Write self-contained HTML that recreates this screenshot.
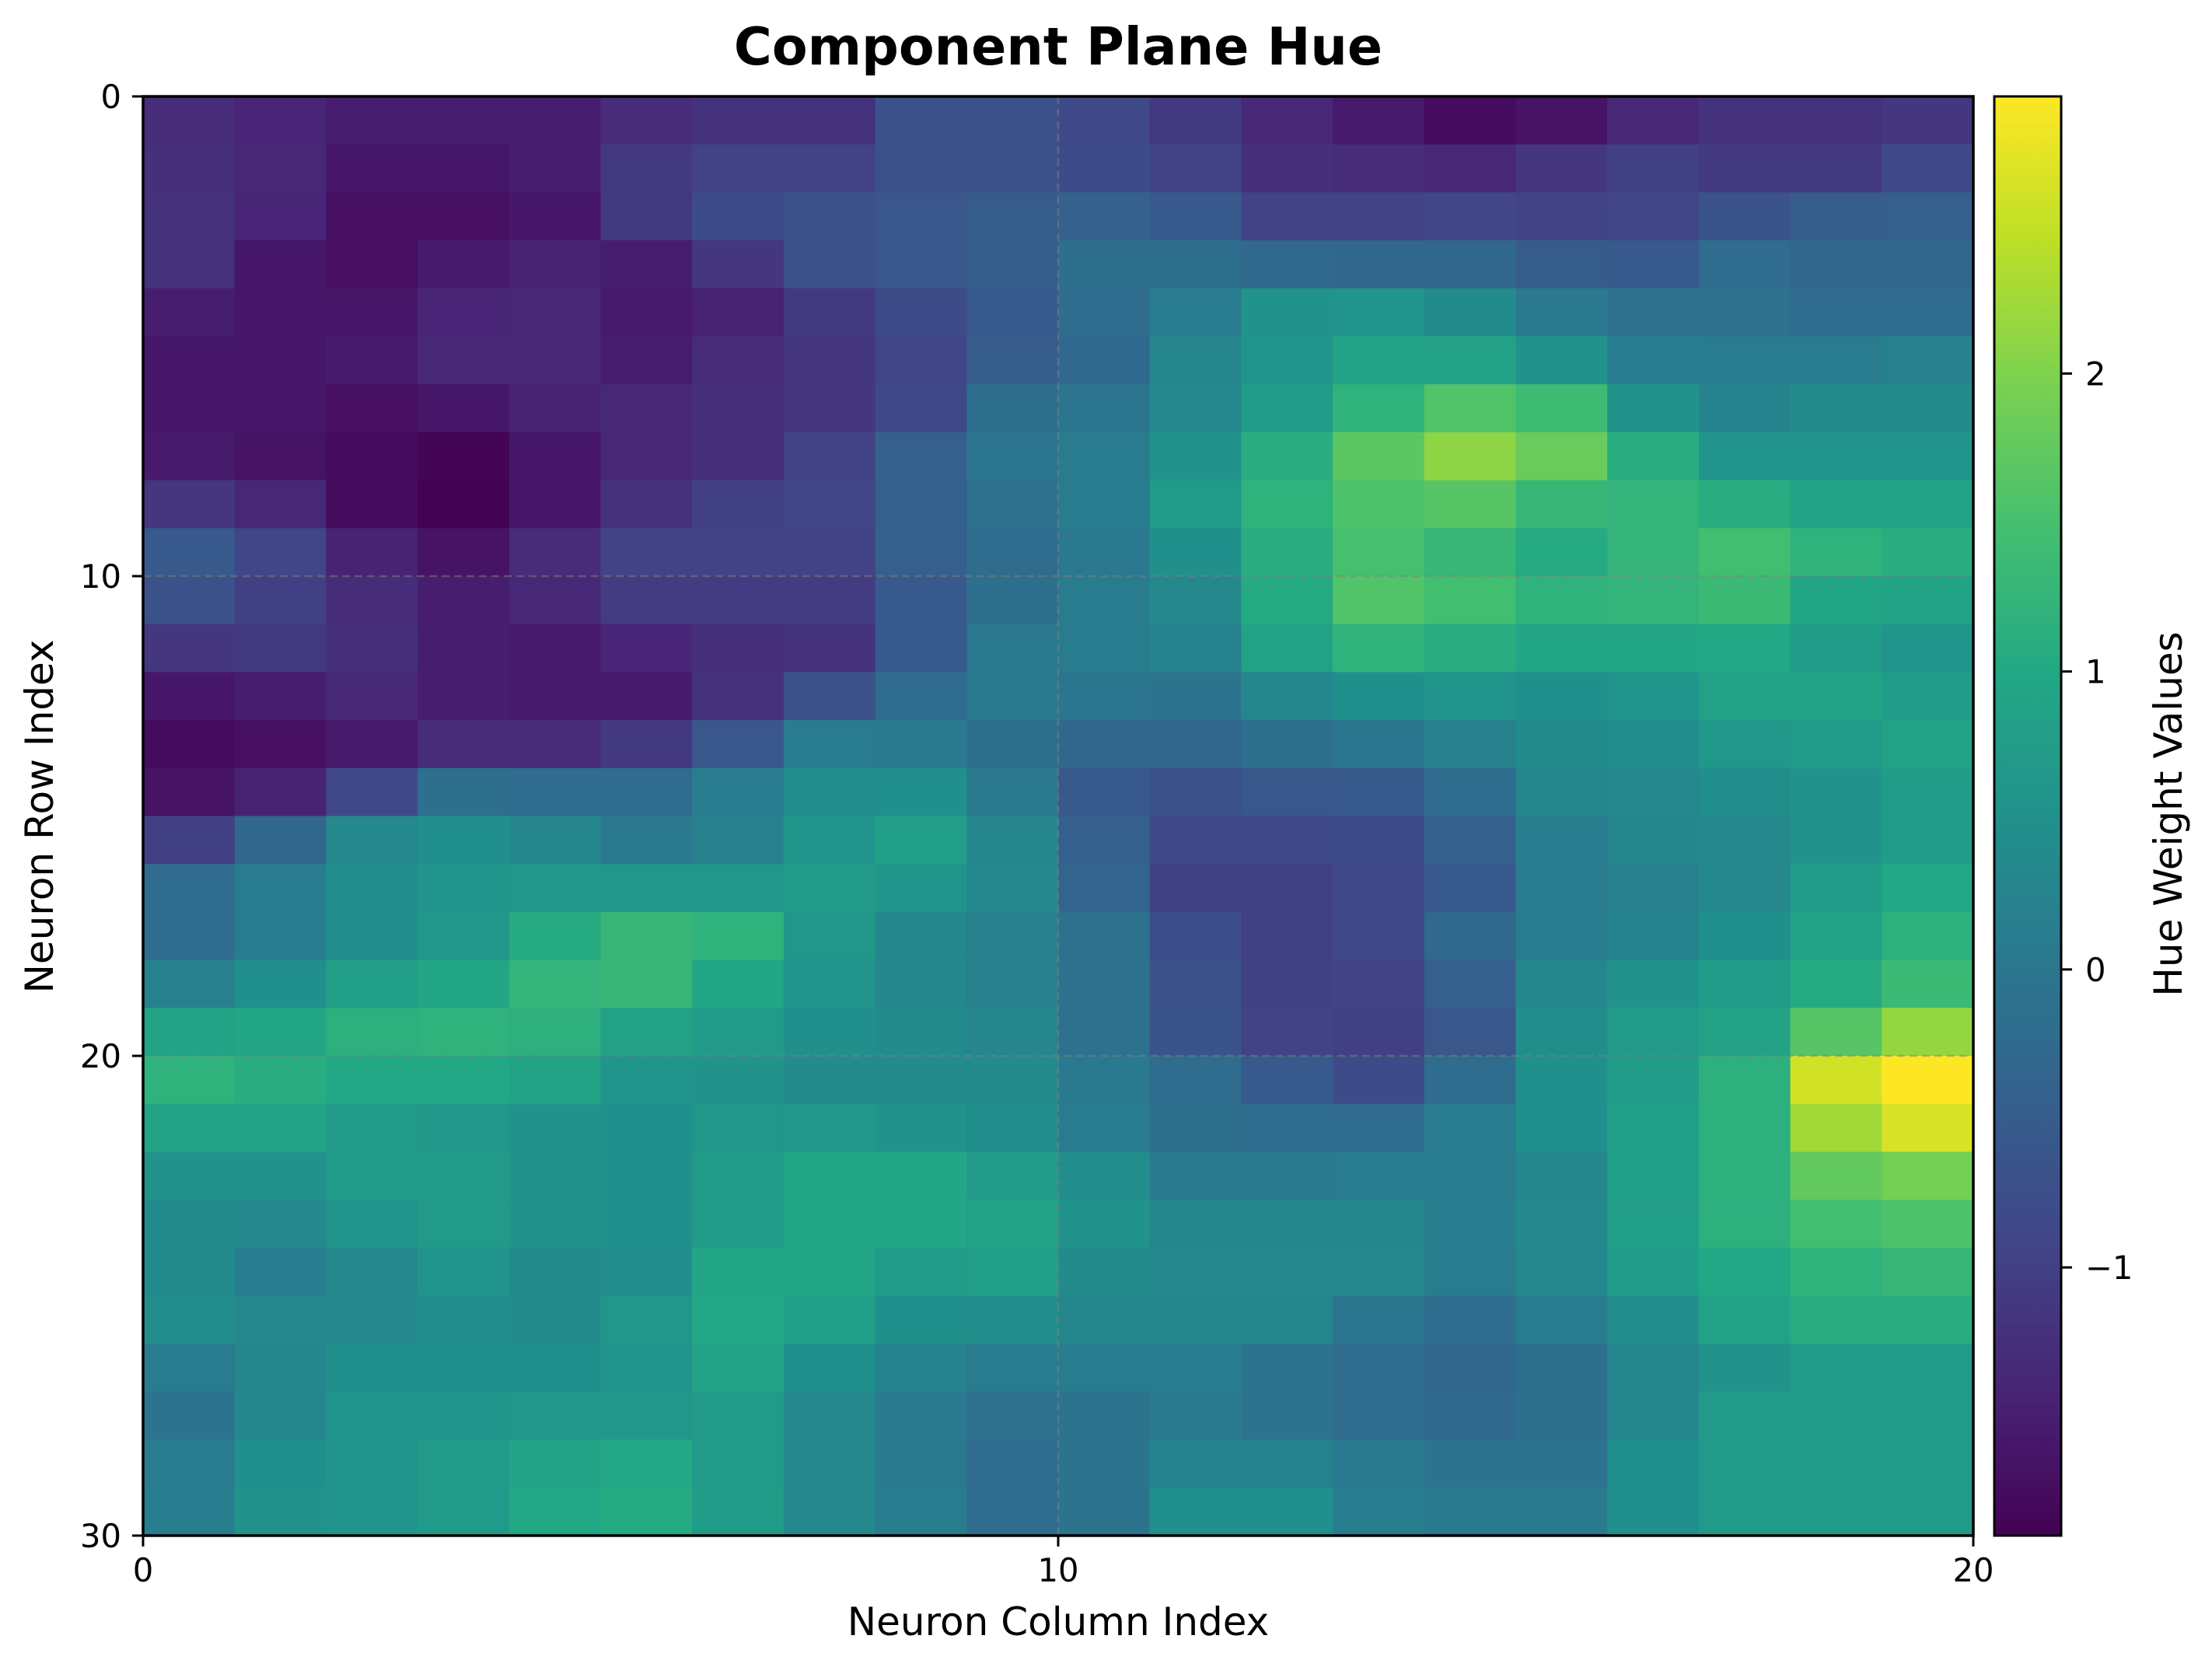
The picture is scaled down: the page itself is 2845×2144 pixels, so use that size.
<!DOCTYPE html>
<html><head><meta charset="utf-8"><title>Component Plane Hue</title>
<style>
html,body{margin:0;padding:0;background:#fff;}
svg{display:block;font-family:"DejaVu Sans","Liberation Sans",sans-serif;}
</style></head>
<body>
<svg id="chart" width="2845" height="2144" viewBox="0 0 2845 2144" xmlns="http://www.w3.org/2000/svg">
<defs><linearGradient id="cbgrad" x1="0" y1="1" x2="0" y2="0"></linearGradient></defs>
<rect x="0" y="0" width="2845" height="2144" fill="#fff"/>
<text x="1361" y="83" text-anchor="middle" font-size="66.7" font-weight="bold">Component Plane Hue</text>
<g id="cells"></g>
<g id="grid"></g>
<rect x="184" y="124" width="2354" height="1851" fill="none" stroke="#000" stroke-width="3.5"/>
<g id="xaxis"></g>
<g id="yaxis"></g>
<text x="1361" y="2103" text-anchor="middle" font-size="50">Neuron Column Index</text>
<text transform="translate(68,1050) rotate(-90)" text-anchor="middle" font-size="50">Neuron Row Index</text>
<rect x="2565" y="124" width="86" height="1851" fill="url(#cbgrad)" stroke="#000" stroke-width="3"/>
<g id="cbaxis"></g>
<text transform="translate(2806,1047) rotate(-90)" text-anchor="middle" font-size="50">Hue Weight Values</text>
</svg>
<script>
const rows = [
[-1.3,-1.4,-1.5,-1.5,-1.5,-1.3,-1.2,-1.2,-0.7,-0.7,-0.85,-1.1,-1.35,-1.55,-1.75,-1.65,-1.35,-1.2,-1.2,-1.15],
[-1.25,-1.35,-1.6,-1.6,-1.5,-1.1,-0.95,-0.95,-0.7,-0.7,-0.8,-0.95,-1.25,-1.3,-1.35,-1.15,-1.0,-1.1,-1.1,-0.85],
[-1.2,-1.4,-1.7,-1.7,-1.6,-1.1,-0.8,-0.7,-0.6,-0.5,-0.4,-0.55,-0.95,-0.95,-0.9,-0.95,-0.9,-0.65,-0.5,-0.45],
[-1.2,-1.6,-1.7,-1.55,-1.45,-1.5,-1.15,-0.7,-0.6,-0.5,-0.15,-0.15,-0.25,-0.3,-0.3,-0.5,-0.55,-0.2,-0.3,-0.3],
[-1.5,-1.6,-1.6,-1.4,-1.35,-1.55,-1.45,-1.1,-0.8,-0.55,-0.2,0.1,0.55,0.6,0.4,0.05,-0.1,-0.1,-0.2,-0.2],
[-1.6,-1.6,-1.55,-1.35,-1.35,-1.5,-1.3,-1.15,-0.9,-0.5,-0.25,0.3,0.6,0.9,0.85,0.55,0.15,0.1,0.1,0.2],
[-1.6,-1.6,-1.7,-1.6,-1.45,-1.35,-1.25,-1.15,-0.85,-0.15,0.0,0.35,0.75,1.2,1.6,1.4,0.55,0.25,0.4,0.4],
[-1.55,-1.65,-1.75,-1.85,-1.6,-1.35,-1.25,-0.95,-0.45,0.0,0.1,0.55,1.1,1.7,2.1,1.8,1.1,0.6,0.6,0.6],
[-1.15,-1.35,-1.75,-1.89,-1.6,-1.2,-1.0,-0.9,-0.45,-0.1,0.1,0.7,1.2,1.55,1.65,1.3,1.25,1.1,0.9,0.9],
[-0.55,-0.9,-1.45,-1.65,-1.3,-0.95,-0.95,-0.95,-0.45,-0.2,0.05,0.5,1.1,1.5,1.3,1.05,1.25,1.45,1.2,1.1],
[-0.7,-1.0,-1.3,-1.5,-1.35,-1.05,-1.05,-1.05,-0.55,-0.15,0.1,0.35,1.05,1.6,1.45,1.2,1.25,1.35,0.95,0.9],
[-1.15,-1.1,-1.25,-1.5,-1.55,-1.4,-1.25,-1.2,-0.55,0.05,0.1,0.25,0.85,1.2,1.1,0.95,0.95,1.0,0.75,0.6],
[-1.6,-1.5,-1.35,-1.5,-1.55,-1.55,-1.2,-0.7,-0.2,0.05,0.0,-0.05,0.3,0.5,0.6,0.5,0.6,0.85,0.9,0.75],
[-1.75,-1.7,-1.55,-1.3,-1.3,-1.1,-0.6,0.1,0.05,-0.15,-0.3,-0.3,-0.15,0.0,0.2,0.4,0.45,0.65,0.7,0.85],
[-1.65,-1.45,-0.85,-0.15,-0.2,-0.2,0.1,0.45,0.5,0.05,-0.55,-0.7,-0.6,-0.55,-0.2,0.3,0.35,0.45,0.55,0.75],
[-1.0,-0.3,0.35,0.5,0.3,0.05,0.2,0.6,0.8,0.3,-0.45,-0.85,-0.85,-0.8,-0.4,0.15,0.3,0.35,0.55,0.75],
[-0.2,0.1,0.45,0.6,0.65,0.65,0.65,0.7,0.6,0.35,-0.35,-1.0,-1.0,-0.85,-0.55,0.1,0.2,0.35,0.75,1.0],
[-0.2,0.1,0.45,0.65,1.05,1.3,1.2,0.65,0.3,0.2,-0.1,-0.75,-1.0,-0.85,-0.25,0.1,0.25,0.5,0.85,1.15],
[0.2,0.5,0.8,0.95,1.25,1.3,0.95,0.6,0.3,0.2,-0.1,-0.7,-1.0,-0.95,-0.45,0.3,0.55,0.75,1.05,1.35],
[0.9,0.95,1.15,1.2,1.15,0.85,0.7,0.5,0.4,0.3,-0.1,-0.65,-0.95,-1.0,-0.6,0.45,0.7,0.85,1.65,2.15],
[1.2,1.1,1.0,1.0,0.9,0.6,0.55,0.4,0.4,0.4,0.05,-0.2,-0.55,-0.8,-0.2,0.5,0.75,1.15,2.6,2.93],
[0.9,0.9,0.7,0.65,0.55,0.5,0.65,0.65,0.55,0.45,0.1,-0.15,-0.2,-0.2,0.1,0.5,0.8,1.15,2.25,2.65],
[0.55,0.55,0.7,0.7,0.55,0.5,0.75,0.95,0.95,0.7,0.45,0.05,0.05,0.1,0.1,0.3,0.8,1.15,1.75,1.9],
[0.4,0.35,0.6,0.7,0.55,0.5,0.75,0.95,0.95,0.85,0.55,0.3,0.3,0.3,0.15,0.35,0.8,1.15,1.45,1.55],
[0.4,0.15,0.35,0.6,0.4,0.45,0.95,0.95,0.75,0.8,0.4,0.35,0.35,0.35,0.1,0.35,0.75,1.0,1.2,1.3],
[0.45,0.35,0.35,0.45,0.4,0.65,1.0,0.8,0.5,0.45,0.3,0.3,0.3,0.0,-0.2,0.1,0.45,0.85,1.1,1.1],
[0.1,0.3,0.5,0.5,0.5,0.6,0.9,0.5,0.25,0.1,0.1,0.1,-0.05,-0.2,-0.3,-0.15,0.3,0.55,0.7,0.7],
[-0.05,0.3,0.6,0.6,0.65,0.65,0.7,0.35,0.05,-0.1,-0.05,0.05,-0.05,-0.2,-0.25,-0.15,0.3,0.7,0.7,0.7],
[0.1,0.5,0.6,0.7,0.9,1.0,0.7,0.35,0.05,-0.2,-0.05,0.25,0.25,0.05,-0.05,-0.05,0.5,0.7,0.7,0.7],
[0.15,0.55,0.6,0.7,1.0,1.05,0.75,0.35,0.1,-0.2,-0.05,0.5,0.5,0.15,0.05,0.05,0.5,0.7,0.7,0.7]
];
const xTicks = [0, 10, 20];
const yTicks = [0, 10, 20, 30];
const cbTicks = [-1, 0, 1, 2];
const vmin = -1.9, vmax = 2.93;

const NS = "http://www.w3.org/2000/svg";
const PL = 184, PR = 2538, PT = 124, PB = 1975;
const nCols = 20, nRows = 30;
const CBX = 2565, CBW = 86;
function xs(c){ return PL + (PR-PL) * c / nCols; }
function ys(r){ return PT + (PB-PT) * r / nRows; }
function cby(v){ return PB - (PB-PT) * (v - vmin) / (vmax - vmin); }
const VIR = ["#440154","#482475","#414487","#355f8d","#2a788e","#21918c","#22a884","#44bf70","#7ad151","#bddf26","#fde725"];
function hex(h){ return [parseInt(h.slice(1,3),16),parseInt(h.slice(3,5),16),parseInt(h.slice(5,7),16)]; }
function viridis(v){
  let t = Math.max(0, Math.min(1, (v - vmin) / (vmax - vmin)));
  let p = t * (VIR.length - 1), i = Math.min(VIR.length - 2, Math.floor(p)), f = p - i;
  let a = hex(VIR[i]), b = hex(VIR[i+1]);
  return "rgb(" + a.map((x,k)=>Math.round(x + (b[k]-x)*f)).join(",") + ")";
}
function mk(tag, attrs, parent){
  const e = document.createElementNS(NS, tag);
  for (const k in attrs) e.setAttribute(k, attrs[k]);
  parent.appendChild(e); return e;
}
const cells = document.getElementById("cells");
rows.forEach((row, r) => row.forEach((v, c) => {
  const x0 = xs(c), y0 = ys(r);
  const el = mk("rect", {x: x0, y: y0, width: xs(c+1)-x0 + 0.5, height: ys(r+1)-y0 + 0.5, fill: viridis(v)}, cells);
  
  
}));
const grid = document.getElementById("grid");
xTicks.forEach(t => {
  const l = mk("line", {x1: xs(t), x2: xs(t), y1: PT, y2: PB, stroke: "#808080", "stroke-opacity": 0.5, "stroke-width": 2.5, "stroke-dasharray": "10,6"}, grid);
  
  
});
yTicks.forEach(t => {
  const l = mk("line", {x1: PL, x2: PR, y1: ys(t), y2: ys(t), stroke: "#808080", "stroke-opacity": 0.5, "stroke-width": 2.5, "stroke-dasharray": "10,6"}, grid);
  
  
});
const xa = document.getElementById("xaxis");
xTicks.forEach(t => {
  const l = mk("line", {x1: xs(t), x2: xs(t), y1: PB, y2: PB+14, stroke: "#000", "stroke-width": 3}, xa);
  
  
  const tx = mk("text", {x: xs(t), y: 2034, "text-anchor": "middle", "font-size": 41.7}, xa);
  tx.textContent = t;
  
  
});
const ya = document.getElementById("yaxis");
yTicks.forEach(t => {
  const l = mk("line", {x1: PL-14, x2: PL, y1: ys(t), y2: ys(t), stroke: "#000", "stroke-width": 3}, ya);
  
  
  const tx = mk("text", {x: 156, y: ys(t)+15, "text-anchor": "end", "font-size": 41.7}, ya);
  tx.textContent = t;
  
  
});
const grad = document.getElementById("cbgrad");
for (let i = 0; i <= 40; i++) {
  const v = vmin + (vmax - vmin) * i / 40;
  mk("stop", {offset: (i/40*100) + "%", "stop-color": viridis(v)}, grad);
}
const cba = document.getElementById("cbaxis");
cbTicks.forEach(t => {
  const l = mk("line", {x1: CBX+CBW, x2: CBX+CBW+14, y1: cby(t), y2: cby(t), stroke: "#000", "stroke-width": 3}, cba);
  
  
  const tx = mk("text", {x: 2682, y: cby(t)+15, "font-size": 41.7}, cba);
  tx.textContent = t < 0 ? "\u2212" + Math.abs(t) : t;
  
  
});
</script>
</body></html>
